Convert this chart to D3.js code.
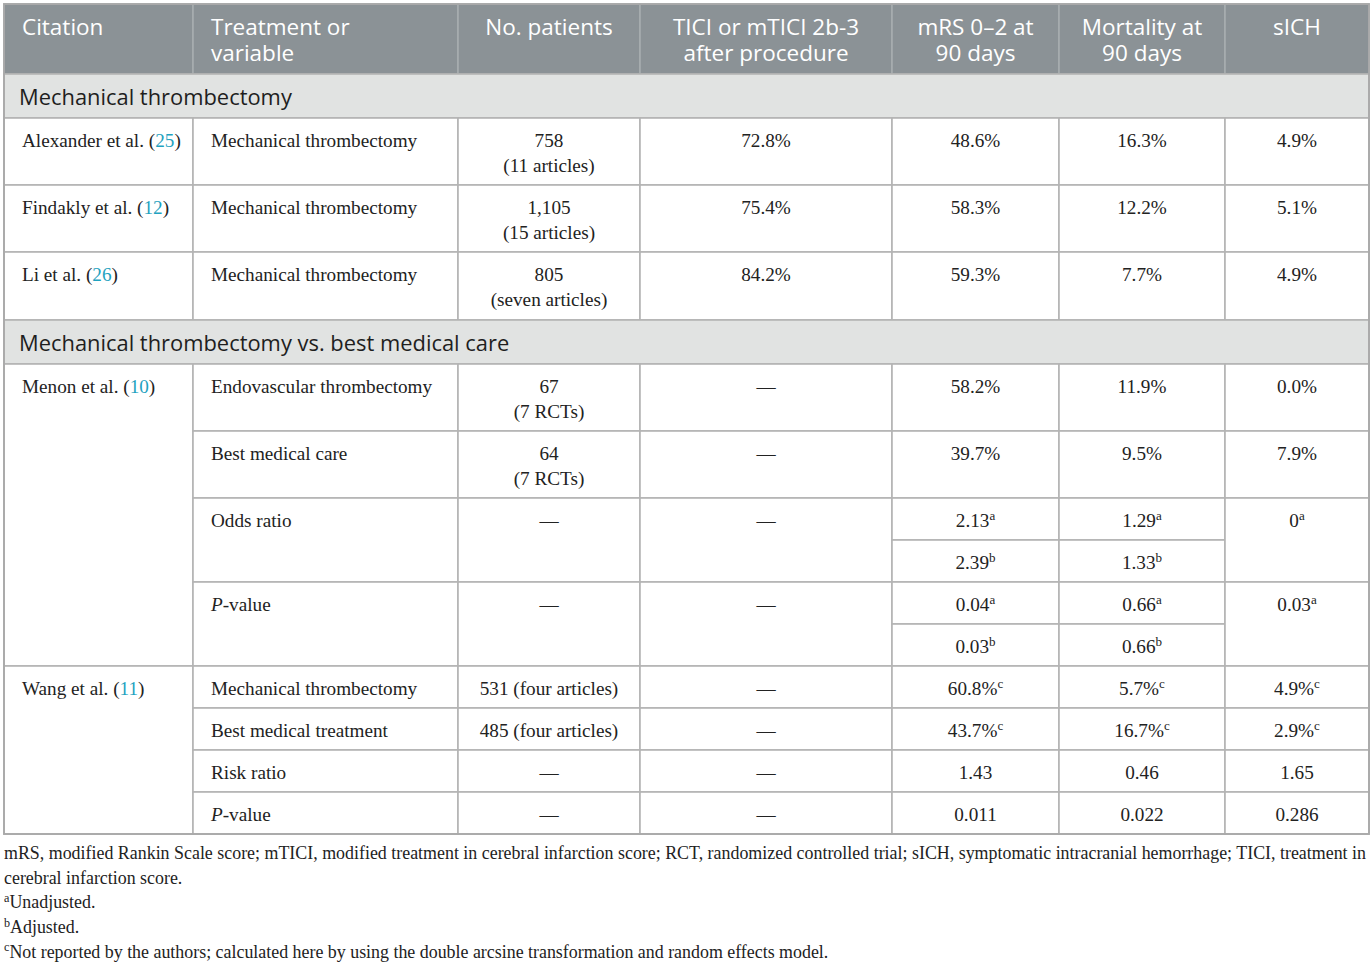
<!DOCTYPE html>
<html><head><meta charset="utf-8">
<script src="https://cdn.jsdelivr.net/npm/d3@7"></script>
<style>body{margin:0;background:#fff}svg{display:block}</style>
</head><body><svg id="c" width="1372" height="964"></svg>
<script>
// ---------- DATA ----------
const headers = ["Citation", "Treatment or\nvariable", "No. patients", "TICI or mTICI 2b-3\nafter procedure", "mRS 0\u20132 at\n90 days", "Mortality at\n90 days", "sICH"];
const sections = ["Mechanical thrombectomy", "Mechanical thrombectomy vs. best medical care"];
const singleStudies = [
  ["Alexander et al. [25]", "Mechanical thrombectomy", "758\n(11 articles)", "72.8%", "48.6%", "16.3%", "4.9%"],
  ["Findakly et al. [12]", "Mechanical thrombectomy", "1,105\n(15 articles)", "75.4%", "58.3%", "12.2%", "5.1%"],
  ["Li et al. [26]", "Mechanical thrombectomy", "805\n(seven articles)", "84.2%", "59.3%", "7.7%", "4.9%"]
];
const menonCitation = "Menon et al. [10]";
const menonRows = [
  ["Endovascular thrombectomy", "67\n(7 RCTs)", "\u2014", "58.2%", "11.9%", "0.0%"],
  ["Best medical care", "64\n(7 RCTs)", "\u2014", "39.7%", "9.5%", "7.9%"]
];
const menonStats = [
  ["Odds ratio", "\u2014", "\u2014", ["2.13^a", "2.39^b"], ["1.29^a", "1.33^b"], "0^a"],
  ["*P*-value", "\u2014", "\u2014", ["0.04^a", "0.03^b"], ["0.66^a", "0.66^b"], "0.03^a"]
];
const wangCitation = "Wang et al. [11]";
const wangRows = [
  ["Mechanical thrombectomy", "531 (four articles)", "\u2014", "60.8%^c", "5.7%^c", "4.9%^c"],
  ["Best medical treatment", "485 (four articles)", "\u2014", "43.7%^c", "16.7%^c", "2.9%^c"],
  ["Risk ratio", "\u2014", "\u2014", "1.43", "0.46", "1.65"],
  ["*P*-value", "\u2014", "\u2014", "0.011", "0.022", "0.286"]
];
const footnotes = [
  "mRS, modified Rankin Scale score; mTICI, modified treatment in cerebral infarction score; RCT, randomized controlled trial; sICH, symptomatic intracranial hemorrhage; TICI, treatment in",
  "cerebral infarction score.",
  "^aUnadjusted.",
  "^bAdjusted.",
  "^cNot reported by the authors; calculated here by using the double arcsine transformation and random effects model."
];

// ---------- LAYOUT ----------
const colWidths = [189, 265, 182, 252, 167, 166, 144];
const rowHeights = [70, 44, 67, 67, 68, 44, 67, 67, 42, 42, 42, 42, 42, 42, 42, 42];
const X0 = 4, Y0 = 4;
const xEdges = [X0, ...Array.from(d3.cumsum(colWidths), v => X0 + v)];
const yEdges = [Y0, ...Array.from(d3.cumsum(rowHeights), v => Y0 + v)];
const xScale = d3.scaleOrdinal().domain(d3.range(xEdges.length)).range(xEdges);
const yScale = d3.scaleOrdinal().domain(d3.range(yEdges.length)).range(yEdges);

// ---------- BUILD CELLS ----------
const cells = [];
headers.forEach((h, i) => cells.push({r: 0, c: i, text: h, type: "header"}));
cells.push({r: 1, c: 0, cs: 7, text: sections[0], type: "section"});
singleStudies.forEach((row, k) => row.forEach((t, i) => cells.push({r: 2 + k, c: i, text: t, type: "body"})));
cells.push({r: 5, c: 0, cs: 7, text: sections[1], type: "section"});
cells.push({r: 6, c: 0, rs: 6, text: menonCitation, type: "body"});
menonRows.forEach((row, k) => row.forEach((t, i) => cells.push({r: 6 + k, c: 1 + i, text: t, type: "body"})));
menonStats.forEach((row, k) => {
  const r = 8 + 2 * k;
  row.forEach((t, i) => {
    if (Array.isArray(t)) {
      t.forEach((s, j) => cells.push({r: r + j, c: 1 + i, text: s, type: "body"}));
    } else {
      cells.push({r: r, c: 1 + i, rs: 2, text: t, type: "body"});
    }
  });
});
cells.push({r: 12, c: 0, rs: 4, text: wangCitation, type: "body"});
wangRows.forEach((row, k) => row.forEach((t, i) => cells.push({r: 12 + k, c: 1 + i, text: t, type: "body"})));

// ---------- RENDER ----------
const svg = d3.select("#c");
const styles = {
  header: {fill: "#8b9296", stroke: "#a7adb0", font: "'Open Sans', 'Noto Sans', sans-serif", size: 22.5, color: "#ffffff", base: 31, lh: 25.5},
  section: {fill: "#e1e3e2", stroke: "#b4b4b4", font: "'Open Sans', 'Noto Sans', sans-serif", size: 21.9, color: "#1e1e1e", base: 30.5, lh: 25},
  body: {fill: "#ffffff", stroke: "#b4b4b4", font: "'Liberation Serif', 'Times New Roman', serif", size: 19.2, color: "#222222", base: 29, lh: 24.5}
};

function addRich(textSel, str, fs) {
  const parts = str.split(/(\^[a-z]|\*[^*]+\*|\[[^\]]+\])/).filter(s => s.length);
  let pendingDy = 0;
  parts.forEach(p => {
    let ts;
    if (p[0] === "^") {
      ts = textSel.append("tspan").text(p.slice(1)).attr("font-size", fs * 0.68).attr("dy", pendingDy - fs * 0.36);
      pendingDy = fs * 0.36;
      return;
    }
    if (p[0] === "*") {
      ts = textSel.append("tspan").text(p.slice(1, -1)).attr("font-style", "italic");
    } else if (p[0] === "[") {
      textSel.append("tspan").text("(").attr("dy", pendingDy || null);
      pendingDy = 0;
      textSel.append("tspan").text(p.slice(1, -1)).attr("fill", "#1fa2c0");
      ts = textSel.append("tspan").text(")");
    } else {
      ts = textSel.append("tspan").text(p);
    }
    if (pendingDy) { ts.attr("dy", pendingDy); pendingDy = 0; }
  });
}

const g = svg.append("g");
const cellG = g.selectAll("g.cell").data(cells).join("g").attr("class", "cell");
cellG.append("rect")
  .attr("x", d => xScale(d.c))
  .attr("y", d => yScale(d.r))
  .attr("width", d => xScale(d.c + (d.cs || 1)) - xScale(d.c))
  .attr("height", d => yScale(d.r + (d.rs || 1)) - yScale(d.r))
  .attr("fill", d => styles[d.type].fill)
  .attr("stroke", d => styles[d.type].stroke)
  .attr("stroke-width", 1.6);

cellG.each(function(d) {
  const st = styles[d.type];
  const left = d.c <= 1 || d.type === "section";
  const x0 = xScale(d.c), x1 = xScale(d.c + (d.cs || 1));
  const pad = d.type === "section" ? 15 : 18;
  const x = left ? x0 + pad : (x0 + x1) / 2;
  d.text.split("\n").forEach((line, li) => {
    const t = d3.select(this).append("text")
      .attr("x", x)
      .attr("y", yScale(d.r) + st.base + li * st.lh)
      .attr("text-anchor", left ? "start" : "middle")
      .attr("font-family", st.font)
      .attr("font-size", st.size)
      .attr("fill", st.color);
    addRich(t, line, st.size);
  });
});

// outer border
g.append("rect").attr("x", X0).attr("y", Y0)
  .attr("width", xEdges[xEdges.length - 1] - X0).attr("height", yEdges[yEdges.length - 1] - Y0)
  .attr("fill", "none").attr("stroke", "#a9a9a9").attr("stroke-width", 1.8);

// footnotes
const fnY = d3.scaleLinear().domain([0, 1]).range([859, 883.7]);
const fnSize = 17.9;
footnotes.forEach((f, i) => {
  const t = svg.append("text")
    .attr("x", 4).attr("y", fnY(i))
    .attr("font-family", "'Liberation Serif', 'Times New Roman', serif")
    .attr("font-size", fnSize).attr("fill", "#222222");
  addRich(t, f, fnSize);
  if (i === 0) t.attr("textLength", 1362).attr("lengthAdjust", "spacing");
});
</script>
</body></html>
